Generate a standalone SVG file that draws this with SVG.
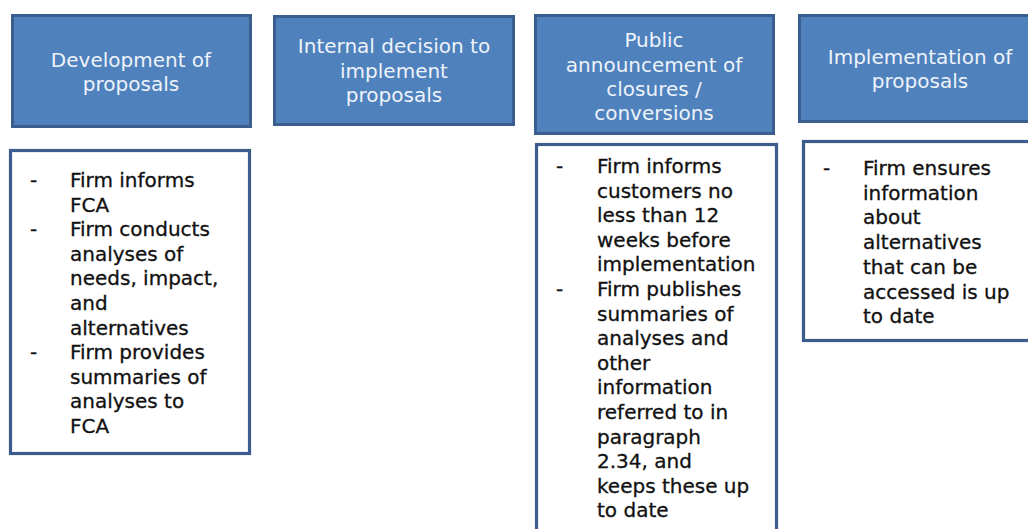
<svg xmlns="http://www.w3.org/2000/svg" width="1028" height="529" viewBox="0 0 1028 529">
  <style>
    .head rect { fill: #4f81bd; stroke: #3a5f8e; stroke-width: 3; }
    .head text { font-family: "DejaVu Sans", Verdana, sans-serif; font-size: 20px; fill: #eef3fa; text-anchor: middle; }
    .body rect { fill: #ffffff; stroke: #3b5c8c; stroke-width: 3.2; }
    .body text { font-family: "DejaVu Sans", Verdana, sans-serif; font-size: 20px; fill: #111111; stroke: #111111; stroke-width: 0.3; }
  </style>
  <rect width="1028" height="529" fill="#ffffff"/>

  <!-- stage headers -->
  <g id="stage-development" class="head">
    <rect x="12.5" y="15.5" width="238" height="111"/>
    <text x="131" y="67">Development of</text>
    <text x="131" y="91">proposals</text>
  </g>
  <g id="stage-decision" class="head">
    <rect x="274.5" y="16.5" width="239" height="108"/>
    <text x="394" y="53">Internal decision to</text>
    <text x="394" y="78">implement</text>
    <text x="394" y="102">proposals</text>
  </g>
  <g id="stage-announcement" class="head">
    <rect x="535.5" y="15.5" width="238" height="118"/>
    <text x="654" y="47">Public</text>
    <text x="654" y="72">announcement of</text>
    <text x="654" y="96">closures /</text>
    <text x="654" y="120">conversions</text>
  </g>
  <g id="stage-implementation" class="head">
    <rect x="799.5" y="15.5" width="240" height="106"/>
    <text x="920" y="64">Implementation of</text>
    <text x="920" y="88">proposals</text>
  </g>

  <!-- requirement boxes -->
  <g id="req-development" class="body">
    <rect x="10.5" y="150.5" width="239" height="303"/>
    <text x="30" y="187">-</text>
    <text x="70" y="187">Firm informs</text>
    <text x="70" y="211.6">FCA</text>
    <text x="30" y="236.2">-</text>
    <text x="70" y="236.2">Firm conducts</text>
    <text x="70" y="260.8">analyses of</text>
    <text x="70" y="285.4">needs, impact,</text>
    <text x="70" y="310">and</text>
    <text x="70" y="334.6">alternatives</text>
    <text x="30" y="359.2">-</text>
    <text x="70" y="359.2">Firm provides</text>
    <text x="70" y="383.8">summaries of</text>
    <text x="70" y="408.4">analyses to</text>
    <text x="70" y="433">FCA</text>
  </g>
  <g id="req-announcement" class="body">
    <rect x="536.5" y="144.5" width="240" height="400"/>
    <text x="556" y="173">-</text>
    <text x="597" y="173">Firm informs</text>
    <text x="597" y="197.6">customers no</text>
    <text x="597" y="222.2">less than 12</text>
    <text x="597" y="246.8">weeks before</text>
    <text x="597" y="271.4">implementation</text>
    <text x="556" y="296">-</text>
    <text x="597" y="296">Firm publishes</text>
    <text x="597" y="320.6">summaries of</text>
    <text x="597" y="345.2">analyses and</text>
    <text x="597" y="369.8">other</text>
    <text x="597" y="394.4">information</text>
    <text x="597" y="419">referred to in</text>
    <text x="597" y="443.6">paragraph</text>
    <text x="597" y="468.2">2.34, and</text>
    <text x="597" y="492.8">keeps these up</text>
    <text x="597" y="517.4">to date</text>
  </g>
  <g id="req-implementation" class="body">
    <rect x="803.5" y="141.5" width="240" height="199"/>
    <text x="823" y="175">-</text>
    <text x="863" y="175">Firm ensures</text>
    <text x="863" y="199.7">information</text>
    <text x="863" y="224.4">about</text>
    <text x="863" y="249.1">alternatives</text>
    <text x="863" y="273.8">that can be</text>
    <text x="863" y="298.5">accessed is up</text>
    <text x="863" y="323.2">to date</text>
  </g>

  <!-- stages are laid out side by side without connectors -->
  <g id="connectors"/>
</svg>
